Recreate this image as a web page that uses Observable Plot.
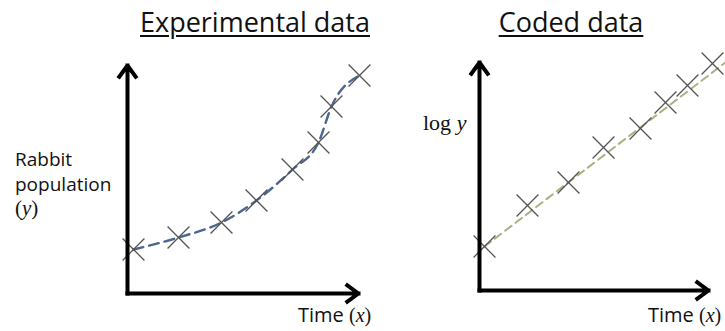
<!DOCTYPE html>
<html>
<head>
<meta charset="utf-8">
<script src="https://cdn.jsdelivr.net/npm/d3@7"></script>
<script src="https://cdn.jsdelivr.net/npm/@observablehq/plot@0.6"></script>
<style>
  html, body { margin: 0; background: #fff; overflow: hidden; }
  #wrap { position: relative; width: 725px; height: 331px; overflow: hidden; background: #fff; color: #111; font-family: "Open Sans", sans-serif; }
  .panel { position: absolute; top: 0; }
  .lbl { position: absolute; white-space: nowrap; line-height: 1; z-index: 2; }
  .title { font-size: 27px; text-decoration: underline; text-decoration-thickness: 2px; text-underline-offset: 3px; transform: translateX(-50%); }
  .serif { font-family: "Liberation Serif", "DejaVu Serif", serif; }
  .it { font-style: italic; }
</style>
</head>
<body>
<div id="wrap"></div>
<script>
// ---- data ----
const panelTitles = ["Experimental data", "Coded data"];
const timeA = [0.6, 5.1, 9.4, 12.9, 16.5, 19.1, 20.4, 23.2];
const population = [22, 28, 35.5, 46.5, 62, 75.5, 93.5, 109];
const timeB = [0.5, 4.8, 8.9, 12.4, 16.1, 18.6, 20.8, 23.3];
const logPopulation = [22, 42.5, 54, 71.5, 81, 94, 102.5, 113.5];
const fitTime = [0.5, 24.8];
const fitLog = [22, 114.8];
const xDomainA = [0, 23.1];
const yDomainA = [0, 114];
const xDomainB = [0, 22.9];
const yDomainB = [0, 114];

const wrap = document.getElementById("wrap");

function axes(xd, yd) {
  return Plot.arrow(
    [{x1: xd[0], y1: yd[0], x2: xd[0], y2: yd[1]}, {x1: xd[0], y1: yd[0], x2: xd[1], y2: yd[0]}],
    {x1: "x1", y1: "y1", x2: "x2", y2: "y2", stroke: "#000", strokeWidth: 4,
     headLength: 5.2, headAngle: 72, strokeLinecap: "square", strokeLinejoin: "miter"}
  );
}

const ptsA = timeA.map((t, i) => ({t, v: population[i]}));
const ptsB = timeB.map((t, i) => ({t, v: logPopulation[i]}));
const fitB = fitTime.map((t, i) => ({t, v: fitLog[i]}));

const plotA = Plot.plot({
  width: 380, height: 331,
  marginLeft: 127, marginRight: 22, marginTop: 65, marginBottom: 38,
  x: {domain: xDomainA, axis: null},
  y: {domain: yDomainA, axis: null},
  marks: [
    Plot.line(ptsA, {x: "t", y: "v", stroke: "#4c6690", strokeWidth: 2.4, strokeDasharray: "10,6", curve: "monotone-x"}),
    Plot.dot(ptsA, {x: "t", y: "v", symbol: "times", r: 10, stroke: "#555", strokeWidth: 1.3}),
    axes(xDomainA, yDomainA)
  ]
});
plotA.classList.add("panel");
plotA.style.left = "0px";
wrap.appendChild(plotA);

const plotB = Plot.plot({
  width: 345, height: 331,
  marginLeft: 99, marginRight: 17, marginTop: 62, marginBottom: 41,
  x: {domain: xDomainB, axis: null},
  y: {domain: yDomainB, axis: null},
  marks: [
    Plot.line(fitB, {x: "t", y: "v", stroke: "#a6b383", strokeWidth: 2, strokeDasharray: "8,5"}),
    Plot.dot(ptsB, {x: "t", y: "v", symbol: "times", r: 10, stroke: "#555", strokeWidth: 1.3}),
    axes(xDomainB, yDomainB)
  ]
});
plotB.classList.add("panel");
plotB.style.left = "380px";
plotB.style.overflow = "hidden";
wrap.appendChild(plotB);

function addLabel(html, cls, pos, extra) {
  const d = document.createElement("div");
  d.className = "lbl " + (cls || "");
  d.innerHTML = html;
  Object.assign(d.style, pos);
  if (extra) Object.assign(d.style, extra);
  wrap.appendChild(d);
  return d;
}

addLabel(panelTitles[0], "title", {left: "255px", top: "8px"});
addLabel(panelTitles[1], "title", {left: "571px", top: "8px"});

addLabel("Rabbit", "", {left: "15px", top: "150px"}, {fontSize: "19px"});
addLabel("population", "", {left: "15px", top: "175px"}, {fontSize: "19px"});
addLabel('<span class="serif">(<span class="it">y</span>)</span>', "", {left: "15px", top: "197px"}, {fontSize: "21px"});

addLabel('Time <span class="serif">(<span class="it">x</span>)</span>', "", {left: "298px", top: "305px"}, {fontSize: "20px"});
addLabel('Time <span class="serif">(<span class="it">x</span>)</span>', "", {left: "648px", top: "305px"}, {fontSize: "20px"});

addLabel('<span class="serif">log <span class="it">y</span></span>', "", {left: "423px", top: "110px"}, {fontSize: "22px"});
</script>
</body>
</html>
